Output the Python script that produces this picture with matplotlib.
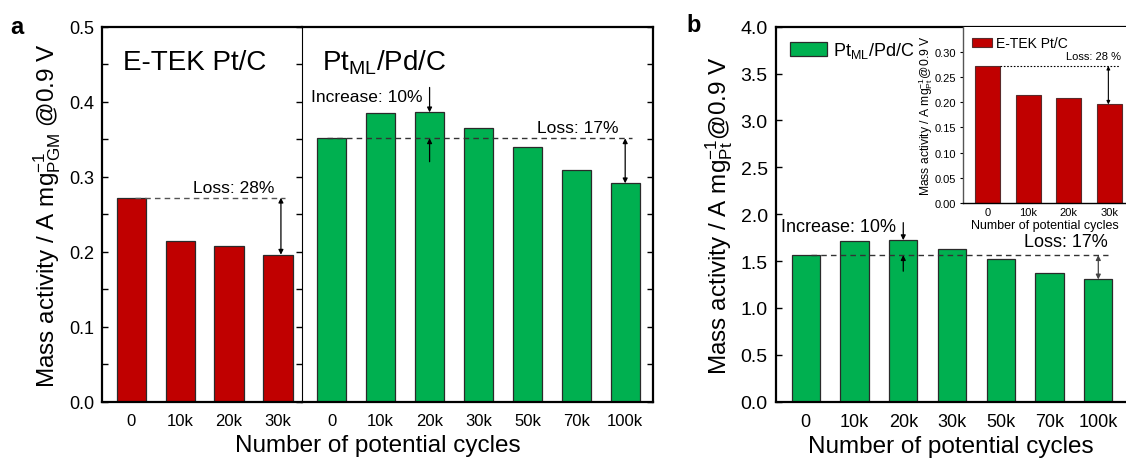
import matplotlib
matplotlib.use("Agg")
import matplotlib.pyplot as plt
import numpy as np
from matplotlib.ticker import MultipleLocator

plt.rcParams['font.family'] = ['Liberation Sans', 'DejaVu Sans']
plt.rcParams['mathtext.fontset'] = 'custom'
plt.rcParams['mathtext.rm'] = 'Liberation Sans'
plt.rcParams['mathtext.it'] = 'Liberation Sans:italic'
plt.rcParams['mathtext.bf'] = 'Liberation Sans:bold'

# ---------------- data ----------------
cycles_etek = ['0', '10k', '20k', '30k']
cycles_ptml = ['0', '10k', '20k', '30k', '50k', '70k', '100k']
etek_pgm = [0.272, 0.2147, 0.2072, 0.196]
ptml_pgm = [0.3512, 0.385, 0.3858, 0.3645, 0.3396, 0.309, 0.2912]
ptml_pt = [1.563, 1.712, 1.723, 1.627, 1.517, 1.378, 1.304]
etek_pt_inset = [0.272, 0.215, 0.2076, 0.1957]

RED = '#C00000'
GREEN = '#00B050'
EDGE = '#2a2a2a'

W, H = 1126, 460
fig = plt.figure(figsize=(W / 100, H / 100), dpi=100)

def fr(x0, y0, x1, y1):
    return [x0 / W, 1 - y1 / H, (x1 - x0) / W, (y1 - y0) / H]

top_px, bot_px = 27.7, 402.7
ax2 = fig.add_axes(fr(302.3, top_px, 653.3, bot_px))
ax1 = fig.add_axes(fr(102.3, top_px, 302.3, bot_px))
ax1.set_facecolor('none')
axb = fig.add_axes(fr(776, top_px, 1126, bot_px))
axi = fig.add_axes(fr(962.5, top_px, 1127, 204))

bw = 0.6
# ---------------- panel a, left part ----------------
x1 = np.arange(len(cycles_etek))
ax1.bar(x1, etek_pgm, width=bw, color=RED, edgecolor=EDGE, linewidth=0.9)
ax1.set_xlim(-0.593, 3.497)
ax1.set_ylim(0, 0.5)
ax1.set_xticks(x1)
ax1.set_xticklabels(cycles_etek, fontsize=12)
ax1.yaxis.set_major_locator(MultipleLocator(0.1))
ax1.yaxis.set_minor_locator(MultipleLocator(0.05))
ax1.tick_params(axis='y', which='both', direction='in', left=True, right=True,
                labelsize=13, pad=6)
ax1.tick_params(axis='y', which='major', length=4, width=1)
ax1.tick_params(axis='y', which='minor', length=4, width=1)
ax1.tick_params(axis='x', length=0, pad=8)
for s in ['left', 'bottom', 'top']:
    ax1.spines[s].set_linewidth(1.6)
ax1.spines['right'].set_linewidth(0.8)
ax1.set_ylabel(r'Mass activity / A mg$^{-1}_{\rm PGM}$ @0.9 V', fontsize=17.5, labelpad=4)
ax1.text(0.105, 0.906, 'E-TEK Pt/C', transform=ax1.transAxes, fontsize=20,
         ha='left', va='center')
ax1.plot([0.08, 3.14], [etek_pgm[0], etek_pgm[0]], ls=(0, (4, 3)), color='#555555', lw=1)
ax1.text(2.92, 0.276, 'Loss: 28%', fontsize=12.5, ha='right', va='bottom')
ax1.annotate('', xy=(3.06, etek_pgm[3]), xytext=(3.06, etek_pgm[0]),
             arrowprops=dict(arrowstyle='<|-|>', lw=0.9, color='black',
                             shrinkA=0, shrinkB=0, mutation_scale=7))

# ---------------- panel a, right part ----------------
x2 = np.arange(len(cycles_ptml))
ax2.bar(x2, ptml_pgm, width=bw, color=GREEN, edgecolor=EDGE, linewidth=0.9)
ax2.set_xlim(-0.603, 6.575)
ax2.set_ylim(0, 0.5)
ax2.set_xticks(x2)
ax2.set_xticklabels(cycles_ptml, fontsize=12)
ax2.yaxis.set_major_locator(MultipleLocator(0.1))
ax2.yaxis.set_minor_locator(MultipleLocator(0.05))
ax2.tick_params(axis='y', which='both', direction='in', left=False, right=True,
                labelleft=False, length=4, width=1)
ax2.tick_params(axis='x', length=0, pad=8)
for s in ['right', 'bottom', 'top']:
    ax2.spines[s].set_linewidth(1.6)
ax2.spines['left'].set_visible(False)
ax2.text(0.056, 0.906, r'Pt$_{\rm ML}$/Pd/C', transform=ax2.transAxes, fontsize=20,
         ha='left', va='center')
ax2.plot([-0.1, 6.13], [ptml_pgm[0], ptml_pgm[0]], ls=(0, (4, 3)), color='#333333', lw=1)
ax2.text(1.85, 0.397, 'Increase: 10%', fontsize=12.5, ha='right', va='bottom')
ax2.annotate('', xy=(2, ptml_pgm[2]), xytext=(2, 0.419),
             arrowprops=dict(arrowstyle='-|>', lw=0.9, color='black',
                             shrinkA=0, shrinkB=0, mutation_scale=7))
ax2.annotate('', xy=(2, ptml_pgm[0]), xytext=(2, 0.32),
             arrowprops=dict(arrowstyle='-|>', lw=0.9, color='black',
                             shrinkA=0, shrinkB=0, mutation_scale=7))
ax2.text(5.86, 0.355, 'Loss: 17%', fontsize=12.5, ha='right', va='bottom')
ax2.annotate('', xy=(6, ptml_pgm[6]), xytext=(6, ptml_pgm[0]),
             arrowprops=dict(arrowstyle='<|-|>', lw=0.9, color='black',
                             shrinkA=0, shrinkB=0, mutation_scale=7))

fig.text(377.8 / W, 1 - 446 / H, 'Number of potential cycles', fontsize=17.5,
         ha='center', va='center')
fig.text(10 / W, 1 - 27 / H, 'a', fontsize=17, fontweight='bold', ha='left', va='center')

# ---------------- panel b ----------------
xb = np.arange(len(cycles_ptml))
axb.bar(xb, ptml_pt, width=0.58, color=GREEN, edgecolor=EDGE, linewidth=0.9,
        label=r'Pt$_{\rm ML}$/Pd/C')
axb.set_xlim(-0.61, 6.568)
axb.set_ylim(0, 4.0)
axb.set_xticks(xb)
axb.set_xticklabels(cycles_ptml, fontsize=13)
axb.yaxis.set_major_locator(MultipleLocator(0.5))
axb.yaxis.set_major_formatter(matplotlib.ticker.FormatStrFormatter('%.1f'))
axb.tick_params(axis='y', direction='in', length=4, width=1, labelsize=14, pad=6)
axb.tick_params(axis='x', length=0, pad=8)
for s in ['left', 'bottom', 'top']:
    axb.spines[s].set_linewidth(1.6)
axb.spines['right'].set_visible(False)
axb.set_ylabel(r'Mass activity / A mg$^{-1}_{\rm Pt}$@0.9 V', fontsize=17.5, labelpad=4)
axb.set_xlabel('Number of potential cycles', fontsize=17.5, labelpad=4)
axb.legend(loc='upper left', fontsize=13, frameon=False, handlelength=2.1,
           handleheight=0.85, borderaxespad=0.35, handletextpad=0.3,
           bbox_to_anchor=(0.0, 1.0))
axb.plot([0.1, 6.2], [ptml_pt[0], ptml_pt[0]], ls=(0, (4, 3)), color='#333333', lw=1)
axb.text(1.86, 1.78, 'Increase: 10%', fontsize=13, ha='right', va='bottom')
axb.annotate('', xy=(2, ptml_pt[2]), xytext=(2, 1.91),
             arrowprops=dict(arrowstyle='-|>', lw=0.9, color='black',
                             shrinkA=0, shrinkB=0, mutation_scale=7))
axb.annotate('', xy=(2, ptml_pt[0]), xytext=(2, 1.392),
             arrowprops=dict(arrowstyle='-|>', lw=0.9, color='black',
                             shrinkA=0, shrinkB=0, mutation_scale=7))
axb.text(6.2, 1.62, 'Loss: 17%', fontsize=13, ha='right', va='bottom')
axb.annotate('', xy=(6, ptml_pt[6]), xytext=(6, ptml_pt[0]),
             arrowprops=dict(arrowstyle='<|-|>', lw=0.9, color='#444444',
                             shrinkA=0, shrinkB=0, mutation_scale=7))
fig.text(686 / W, 1 - 26 / H, 'b', fontsize=17, fontweight='bold', ha='left', va='center')

# ---------------- inset ----------------
xi = np.arange(len(cycles_etek))
axi.bar(xi, etek_pt_inset, width=0.62, color=RED, edgecolor='#5a2a2a', linewidth=0.8,
        label='E-TEK Pt/C')
axi.set_xlim(-0.62, 3.44)
axi.set_ylim(0, 0.35)
axi.set_yticks(np.arange(0, 0.31, 0.05))
axi.yaxis.set_major_formatter(matplotlib.ticker.FormatStrFormatter('%.2f'))
axi.set_xticks(xi)
axi.set_xticklabels(cycles_etek, fontsize=8)
axi.tick_params(axis='y', direction='out', length=2.5, width=0.8, labelsize=8, pad=2)
axi.tick_params(axis='x', length=0, pad=3)
axi.spines['right'].set_visible(False)
axi.spines['top'].set_visible(False)
axi.spines['left'].set_linewidth(1.0)
axi.spines['left'].set_color('#555555')
axi.spines['bottom'].set_linewidth(1.0)
axi.set_ylabel(r'Mass activity / A mg$^{-1}_{\rm Pt}$@0.9 V', fontsize=8.7, labelpad=0)
axi.set_xlabel('Number of potential cycles', fontsize=9, labelpad=1)
axi.legend(loc='upper left', fontsize=10, frameon=False, handlelength=1.4,
           handleheight=0.6, borderaxespad=0.3, handletextpad=0.3,
           bbox_to_anchor=(0.0, 1.0))
axi.plot([0.3, 3.26], [etek_pt_inset[0], etek_pt_inset[0]], ls=(0, (1.5, 1.5)),
         color='black', lw=0.8)
axi.text(3.29, 0.281, 'Loss: 28 %', fontsize=8, ha='right', va='bottom')
axi.annotate('', xy=(2.98, etek_pt_inset[3]), xytext=(2.98, etek_pt_inset[0]),
             arrowprops=dict(arrowstyle='<|-|>', lw=0.8, color='black',
                             shrinkA=0, shrinkB=0, mutation_scale=5))

fig.savefig('out.png', dpi=100)
